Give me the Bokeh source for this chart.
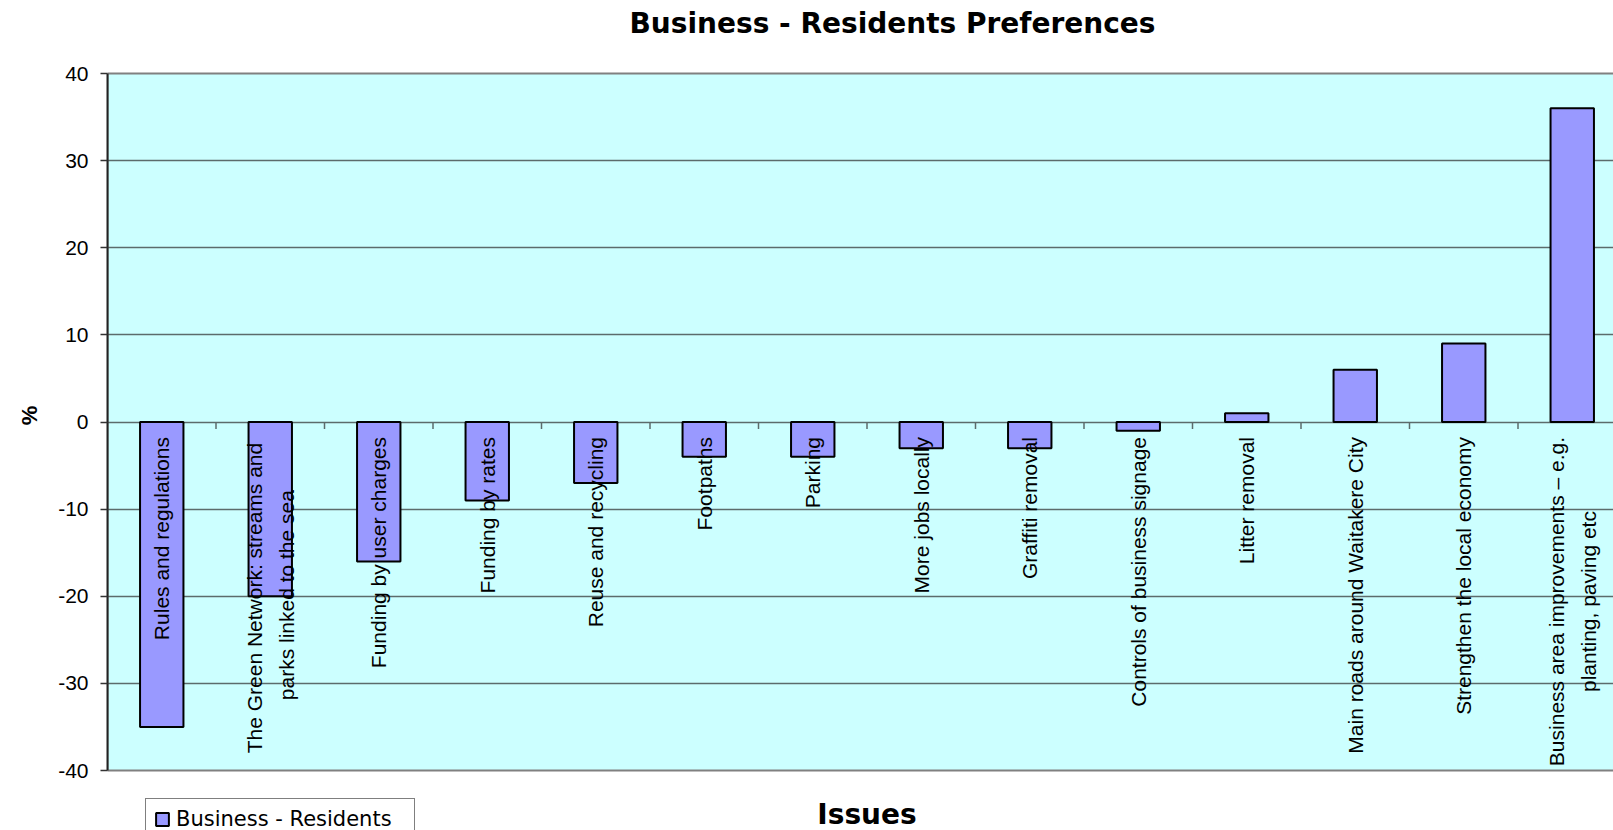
import math
from bokeh.plotting import figure
from bokeh.models import Range1d, FixedTicker, Label, ColumnDataSource
from bokeh.core.properties import value
from bokeh.embed import file_html
from bokeh.resources import INLINE

categories = [
    "Rules and regulations",
    "The Green Network:  streams and\nparks linked to the sea",
    "Funding by user charges",
    "Funding by rates",
    "Reuse and recycling",
    "Footpaths",
    "Parking",
    "More jobs locally",
    "Graffiti removal",
    "Controls of business signage",
    "Litter removal",
    "Main roads around Waitakere City",
    "Strengthen the local economy",
    "Business area improvements \u2013 e.g.\nplanting, paving etc",
]
values = [-35, -20, -16, -9, -7, -4, -4, -3, -3, -1, 1, 6, 9, 36]
y_ticks = [-40, -30, -20, -10, 0, 10, 20, 30, 40]
y_tick_labels = ["-40", "-30", "-20", "-10", "0", "10", "20", "30", "40"]
series_name = "Business - Residents"
title_text = "Business - Residents Preferences"
x_title = "Issues"
y_title = "%"

# ---- layout constants (pixels) ----
W, H = 1613, 830
left_px = 107          # left edge of the plot area
area_top, area_bottom = 73, 770   # plot area in canvas pixels
cat_px = 108.5         # width of one category slot
label_font_px = 21
line_gap_px = 32       # distance between wrapped label lines

n = len(categories)
centers = [i + 0.5 for i in range(n)]
boundaries = [i for i in range(1, n + 1)]

ymin, ymax = y_ticks[0], y_ticks[-1]
px_per_unit = (area_bottom - area_top) / (ymax - ymin)
y_start = ymin - (H - area_bottom) / px_per_unit
y_end = ymax + area_top / px_per_unit
x_end = (W - left_px) / cat_px

p = figure(width=W, height=H, output_backend="svg", toolbar_location=None,
           x_range=Range1d(0, x_end), y_range=Range1d(y_start, y_end),
           x_axis_location=None, min_border_left=left_px, min_border_right=0,
           min_border_top=0, min_border_bottom=0)

p.background_fill_color = "white"
p.border_fill_color = "white"
p.outline_line_color = None

grid_color = "#5c6b6b"
border_grey = "#808080"

# plot-area background (cyan) with grey top/bottom border
bg = p.quad(left=0, right=n, bottom=ymin, top=ymax, fill_color="#CCFFFF",
            line_color=border_grey, line_width=2)
bg.level = "image"

p.xgrid.visible = False
p.ygrid.ticker = FixedTicker(ticks=y_ticks[1:-1])
p.ygrid.grid_line_color = grid_color
p.ygrid.grid_line_width = 1.5

yax = p.yaxis[0]
yax.ticker = FixedTicker(ticks=y_ticks)
yax.bounds = (ymin, ymax)
yax.major_label_overrides = {t: s for t, s in zip(y_ticks, y_tick_labels)}
yax.minor_tick_line_color = None
yax.major_tick_in = 0
yax.major_tick_out = 7
yax.major_tick_line_color = "#333333"
yax.major_tick_line_width = 1.5
yax.axis_line_color = "#222222"
yax.axis_line_width = 2
yax.major_label_standoff = 12
yax.major_label_text_font = "Liberation Sans"
yax.major_label_text_font_size = "21px"
yax.major_label_text_color = "black"
yax.axis_label = y_title
yax.axis_label_text_font = "Liberation Sans"
yax.axis_label_text_font_style = "bold"
yax.axis_label_text_font_size = "22px"
yax.axis_label_text_color = "black"
yax.axis_label_standoff = 13

# category tick marks hanging below the zero line
p.ray(x=boundaries, y=[0] * len(boundaries), length=7, length_units="screen",
      angle=-math.pi / 2, line_color=grid_color, line_width=1.5)

src = ColumnDataSource(dict(x=centers, top=values))
p.vbar(x="x", top="top", bottom=0, width=0.4, source=src,
       fill_color="#9999FF", line_color="black", line_width=2,
       legend_label=series_name)

# approximate Arial advance widths (per 1000 em) to centre wrapped labels
AW = {" ": 278, "T": 611, "h": 556, "e": 556, "G": 778, "r": 333, "n": 556,
      "N": 722, "t": 278, "w": 722, "o": 556, "k": 500, ":": 278, "s": 500,
      "a": 556, "m": 833, "d": 556, "B": 667, "u": 556, "i": 222, "p": 556,
      "v": 500, "\u2013": 556, ".": 278, "g": 556, "l": 222, ",": 278,
      "c": 500, "y": 500, "f": 278, "S": 667, "R": 722, "F": 611, "P": 667}


def text_px(s):
    return sum(AW.get(ch, 556) for ch in s) * label_font_px / 1000


gap = 15
rows = dict(x=[], y=[], text=[], anchor=[], xoff=[], yoff=[])
for cx, c in zip(centers, categories):
    lines = c.split("\n")
    k = len(lines)
    if k == 1:
        rows["x"].append(cx); rows["y"].append(0); rows["text"].append(c)
        rows["anchor"].append("center_right"); rows["xoff"].append(0)
        rows["yoff"].append(gap)
    else:
        mid = gap + max(text_px(l) for l in lines) / 2
        for j, line in enumerate(lines):
            rows["x"].append(cx); rows["y"].append(0); rows["text"].append(line)
            rows["anchor"].append("center")
            rows["xoff"].append((j - (k - 1) / 2) * line_gap_px)
            rows["yoff"].append(mid)

lab = ColumnDataSource(rows)
p.text(x="x", y="y", text="text", source=lab, angle=math.pi / 2,
       anchor="anchor", x_offset="xoff", y_offset="yoff",
       text_font=value("Liberation Sans"), text_font_size=f"{label_font_px}px",
       text_color="black")

# chart title and category-axis title
p.add_layout(Label(x=629 - left_px, y=H - 23, x_units="screen", y_units="screen",
                   text=title_text, text_align="left", text_baseline="alphabetic",
                   text_font="DejaVu Sans", text_font_style="bold",
                   text_font_size="28px", text_color="black"))
p.add_layout(Label(x=n / 2, y=H - 814, x_units="data", y_units="screen",
                   text=x_title, text_align="center", text_baseline="alphabetic",
                   text_font="DejaVu Sans", text_font_style="bold",
                   text_font_size="28px", text_color="black"))

lg = p.legend[0]
lg.location = (145 - left_px, -10)
lg.border_line_color = "black"
lg.border_line_width = 1
lg.background_fill_color = "white"
lg.background_fill_alpha = 1
lg.label_text_font = "DejaVu Sans"
lg.label_text_font_size = "21px"
lg.label_text_color = "black"
lg.label_width = 230
lg.glyph_width = 16
lg.glyph_height = 16
lg.label_standoff = 6
lg.padding = 8
lg.margin = 0
lg.spacing = 0

open("out.html", "w").write(file_html(p, INLINE))
